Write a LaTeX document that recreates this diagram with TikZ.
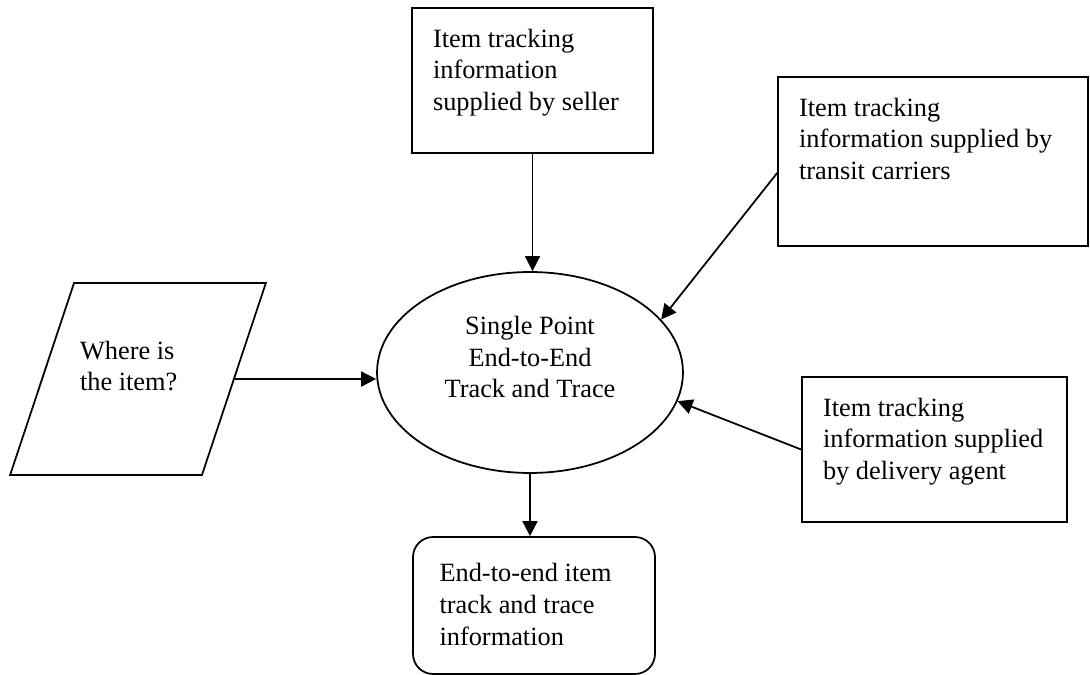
\documentclass[tikz,border=0pt]{standalone}
\usepackage{fontspec}
\setmainfont{Liberation Serif}
\usetikzlibrary{arrows.meta, shapes, positioning}
\newcommand{\boxtext}[3]{\parbox[c][#1][t]{#2}{\raggedright #3}}
\newcommand{\liftext}[3]{\raisebox{#1}[0pt][0pt]{\parbox[c]{#2}{#3}}}
\tikzset{> = { Triangle[length = 3mm, width = 3mm] }}

\begin{document}
\begin{tikzpicture}[->, x = 0.02cm, y = -0.02cm, line width = 1pt,
		every node/.style = { font = \fontsize{15}{18}\selectfont },
		source/.style = { draw, rectangle, inner sep = 0.42cm },
		result/.style = { draw, rectangle, rounded corners = 0.4cm, inner sep = 0.53cm },
		hub/.style = { draw, ellipse, inner sep = 0pt, minimum width = 6.12cm, minimum height = 4.02cm },
		request/.style = { draw, trapezium, trapezium left angle = 71.6, trapezium right angle = 108.4, inner xsep = 0.12cm, inner ysep = 0pt }]
		\useasboundingbox (0, 0) rectangle (1090, 675);

		\node [hub]     (track)    at (530, 372.5) {\liftext{0.18cm}{3.8cm}{\centering Single Point\\End-to-End\\Track and Trace}};
		\node [request] (where)    at (138, 379)   {\boxtext{3.84cm}{2.32cm}{\vspace*{1.16cm}Where is\\the item?}};

		\node [source]  (seller)   at (532.5, 80.5) {\boxtext{2.06cm}{3.98cm}{Item tracking\\information\\supplied by seller}};
		\node [source]  (transit)  at (933, 161.5)  {\boxtext{2.54cm}{5.36cm}{Item tracking\\information supplied by\\transit carriers}};
		\node [source]  (delivery) at (934.5, 449.5) {\boxtext{2.06cm}{4.46cm}{Item tracking\\information supplied\\by delivery agent}};
		\node [result]  (output)   at (534, 605.5)  {\boxtext{1.68cm}{3.78cm}{End-to-end item\\track and trace\\information}};

		\draw (where.east) -- (where.east -| track.west);
		\draw (seller.south) -- (seller.south |- track.north);
		\draw ([yshift = -0.23cm] transit.west) -- (track.22);
		\draw (delivery.west) -- (track.-11);
		\draw (track.south) -- (track.south |- output.north);
	\end{tikzpicture}
\end{document}
